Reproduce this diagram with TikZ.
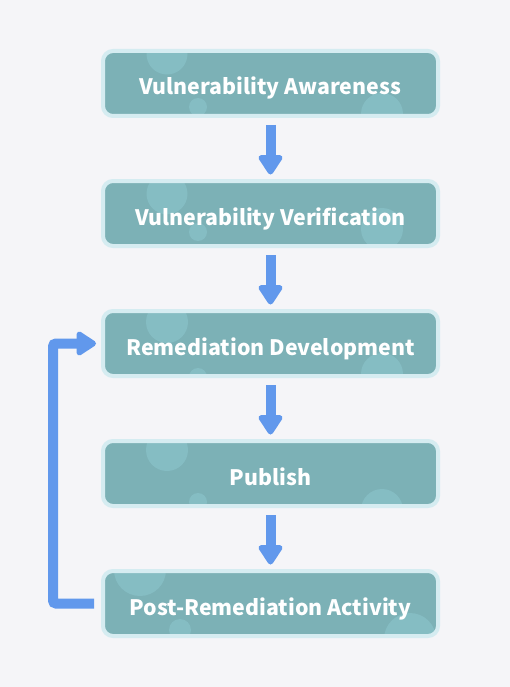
\documentclass[tikz,border=0pt]{standalone}
\usepackage{fontspec}
\setmainfont{Noto Sans CJK SC}
\usetikzlibrary{arrows.meta}
\definecolor{paper}{HTML}{F5F5F8}
\definecolor{boxfill}{HTML}{7CB1B6}
\definecolor{boxedge}{HTML}{D5ECF1}
\definecolor{bubblecol}{HTML}{85BDC3}
\definecolor{flowcol}{HTML}{6198EC}
\tikzset{
  stepbox/.style={draw=boxedge, fill=boxfill, line width=4pt, rounded corners=10pt,
    minimum width=335pt, minimum height=65pt, inner sep=0pt,
    text height=23pt, text depth=0pt,
    text=white, font=\fontsize{21.3}{25}\selectfont\bfseries},
  bubble/.style={fill=bubblecol},
  bubbles/.style n args={9}{path picture={
    \fill[bubble] ([shift={(#1,#2)}]path picture bounding box.center) circle (#3pt)
      ([shift={(#4,#5)}]path picture bounding box.center) circle (#6pt)
      ([shift={(#7,#8)}]path picture bounding box.center) circle (#9pt);}},
  flow/.style={draw=flowcol, line width=10pt, -{Triangle[width=27pt,length=22pt,round]}}
}
\begin{document}
\begin{tikzpicture}[x=1pt, y=-1pt]
\fill[paper] (0,0) rectangle (510,687);
\useasboundingbox (0,0) rectangle (510,687);
% the five steps
\node[stepbox, bubbles={-103.5}{-29.5}{20.5}{-72.5}{23.5}{9}{111.5}{30.5}{21}] (aware) at (270.5,83.5) {Vulnerability Awareness};
\node[stepbox, bubbles={-103.5}{-19.7}{20.5}{-72.5}{18.5}{9}{111.5}{15.5}{21}] (verify) at (270.5,213.5) {Vulnerability Verification};
\node[stepbox, bubbles={-103.5}{-21.5}{21}{-72.5}{33.5}{9}{111.5}{30.5}{21}] (remedy) at (270.5,343.5) {Remediation Development};
\node[stepbox, bubbles={-103.5}{-23.5}{21}{-72.5}{28.5}{9}{111.5}{36.5}{21}] (publish) at (270.5,473.5) {Publish};
\node[stepbox, bubbles={-130.5}{-33.5}{26}{-90.5}{26.5}{11}{139.5}{35.5}{26}] (post) at (270.5,603.5) {Post-Remediation Activity};
% arrows
\foreach \a/\b in {aware/verify, verify/remedy, remedy/publish, publish/post}
\draw[flow, shorten <=7pt, shorten >=4.5pt] (\a) -- (\b);
\draw[flow, rounded corners=3pt, shorten <=7pt, shorten >=5pt] (post.west) -- ++(-48,0) |- (remedy.west);
\end{tikzpicture}
\end{document}
